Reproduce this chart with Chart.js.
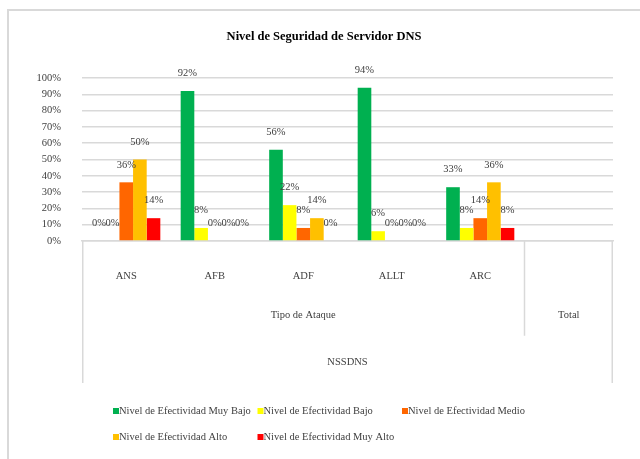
<!DOCTYPE html>
<html>
<head>
<meta charset="utf-8">
<script src="https://cdn.jsdelivr.net/npm/chart.js@4.4.1/dist/chart.umd.min.js"></script>
<style>
  html, body { margin: 0; padding: 0; background: #fff; }
</style>
</head>
<body>
<canvas id="nivelChart" width="640" height="459"></canvas>
<script>
// attack types on the first axis level, last slot is the "Total" column (no bars)
const categories = ['ANS', 'AFB', 'ADF', 'ALLT', 'ARC', ''];
const groupLabels = ['Tipo de Ataque', 'Total'];
const groupSizes = [5, 1];
const outerLabel = 'NSSDNS';

const seriesNames = [
    'Nivel de Efectividad Muy Bajo',
    'Nivel de Efectividad Bajo',
    'Nivel de Efectividad Medio',
    'Nivel de Efectividad Alto',
    'Nivel de Efectividad Muy Alto'
];
const muyBajo = [0, 92, 56, 94, 33, null];
const bajo = [0, 8, 22, 6, 8, null];
const medio = [36, 0, 8, 0, 14, null];
const alto = [50, 0, 14, 0, 36, null];
const muyAlto = [14, 0, 0, 0, 8, null];
const seriesColors = ['#00b050', '#ffff00', '#ff6600', '#ffc000', '#ff0000'];

const yMax = 100;
const yStep = 10;

var serif = '"Liberation Serif", "Times New Roman", serif';
var textColor = '#404040';
var lineColor = '#d9d9d9';

var values = [muyBajo, bajo, medio, alto, muyAlto];
var datasets = values.map(function(v, i) {
    return {
        label: seriesNames[i],
        data: v,
        backgroundColor: seriesColors[i],
        borderWidth: 0,
        categoryPercentage: 0.77,
        barPercentage: 1.0
    };
});

// light frame around the whole chart object
var framePlugin = {
    id: 'frame',
    beforeDraw: function(chart) {
        var ctx = chart.ctx;
        ctx.save();
        ctx.strokeStyle = lineColor;
        ctx.lineWidth = 2;
        ctx.beginPath();
        ctx.moveTo(8, chart.height + 5);
        ctx.lineTo(8, 10);
        ctx.lineTo(chart.width + 5, 10);
        ctx.stroke();
        ctx.restore();
    }
};

// value labels above each bar
var barLabels = {
    id: 'barLabels',
    afterDatasetsDraw: function(chart) {
        var ctx = chart.ctx;
        ctx.save();
        ctx.font = '10.5px ' + serif;
        ctx.fillStyle = textColor;
        ctx.textAlign = 'center';
        ctx.textBaseline = 'middle';
        chart.data.datasets.forEach(function(ds, i) {
            var meta = chart.getDatasetMeta(i);
            meta.data.forEach(function(bar, j) {
                var v = ds.data[j];
                if (v === null || v === undefined) return;
                ctx.fillText(v + '%', bar.x, bar.y - 17.5);
            });
        });
        ctx.restore();
    }
};

// second and third category levels with their separators
var categoryLevels = {
    id: 'categoryLevels',
    afterDraw: function(chart) {
        var ctx = chart.ctx;
        var xs = chart.scales.x;
        var area = chart.chartArea;
        var row = xs.height / 3;
        var step = (area.right - area.left) / categories.length;

        ctx.save();
        ctx.strokeStyle = lineColor;
        ctx.lineWidth = 1.5;
        ctx.beginPath();
        ctx.moveTo(area.left + 0.75, area.bottom);
        ctx.lineTo(area.left + 0.75, xs.bottom);
        ctx.moveTo(area.right - 0.75, area.bottom);
        ctx.lineTo(area.right - 0.75, xs.bottom);

        ctx.font = '10.5px ' + serif;
        ctx.fillStyle = textColor;
        ctx.textAlign = 'center';
        ctx.textBaseline = 'middle';

        var start = 0;
        groupLabels.forEach(function(label, g) {
            var end = start + groupSizes[g];
            var x0 = area.left + start * step;
            var x1 = area.left + end * step;
            if (g > 0) {
                ctx.moveTo(x0, area.bottom);
                ctx.lineTo(x0, xs.top + 2 * row);
            }
            ctx.fillText(label, (x0 + x1) / 2, xs.top + row + 27);
            start = end;
        });
        ctx.stroke();

        ctx.fillText(outerLabel, (area.left + area.right) / 2, xs.top + 2 * row + 27);
        ctx.restore();
    }
};

// legend laid out in fixed columns, two rows
var legendGrid = {
    id: 'legendGrid',
    afterDraw: function(chart) {
        var ctx = chart.ctx;
        var xs = chart.scales.x;
        var left = 113;
        var colWidth = 144.5;
        var perRow = 3;
        ctx.save();
        ctx.font = '10.5px ' + serif;
        ctx.fillStyle = textColor;
        ctx.textAlign = 'left';
        ctx.textBaseline = 'middle';
        chart.data.datasets.forEach(function(ds, i) {
            var col = i % perRow;
            var r = Math.floor(i / perRow);
            var x = left + col * colWidth;
            var y = xs.bottom + 28 + r * 26;
            ctx.fillStyle = ds.backgroundColor;
            ctx.fillRect(x, y - 3, 6, 6);
            ctx.fillStyle = textColor;
            ctx.fillText(ds.label, x + 6, y);
        });
        ctx.restore();
    }
};

var ctx = document.getElementById('nivelChart').getContext('2d');
var myChart = new Chart(ctx, {
    type: 'bar',
    data: {
        labels: categories,
        datasets: datasets
    },
    options: {
        responsive: false,
        animation: false,
        layout: {
            padding: { left: 35, right: 27, top: 0, bottom: 76 }
        },
        plugins: {
            legend: { display: false },
            tooltip: { enabled: false },
            title: {
                display: true,
                text: 'Nivel de Seguridad de Servidor DNS',
                color: '#000',
                font: { family: serif, size: 12.5, weight: 'bold' },
                padding: { top: 29.5, bottom: 33.5 }
            }
        },
        scales: {
            x: {
                grid: { display: false },
                border: { display: true, color: lineColor, width: 1.5 },
                ticks: {
                    color: textColor,
                    font: { family: serif, size: 10.5 },
                    padding: 21,
                    maxRotation: 0
                },
                afterFit: function(scale) {
                    scale.height = 142;
                }
            },
            y: {
                min: 0,
                max: yMax,
                grid: { color: lineColor, lineWidth: 1.5, drawTicks: false },
                border: { display: false },
                ticks: {
                    stepSize: yStep,
                    color: textColor,
                    font: { family: serif, size: 10.5 },
                    padding: 21,
                    callback: function(v) { return v + '%'; }
                },
                afterFit: function(scale) {
                    scale.width = 47;
                }
            }
        }
    },
    plugins: [framePlugin, barLabels, categoryLevels, legendGrid]
});
</script>
</body>
</html>
